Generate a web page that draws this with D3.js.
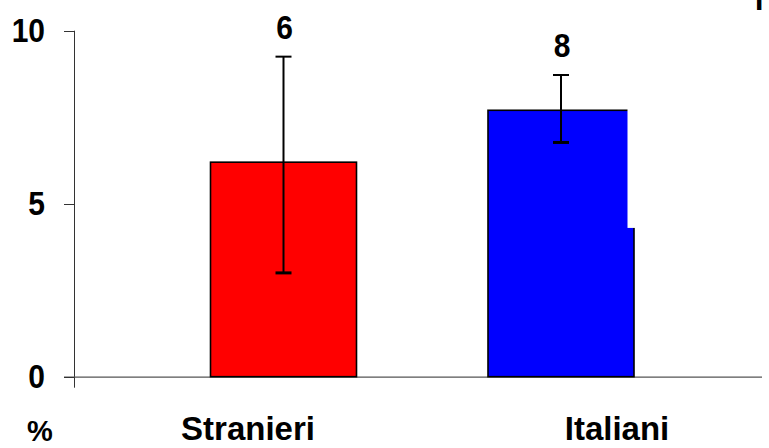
<!DOCTYPE html>
<html><head><meta charset="utf-8">
<script src="https://cdn.jsdelivr.net/npm/d3@7"></script>
<style>html,body{margin:0;padding:0;background:#fff;}svg{display:block;}</style>
</head><body>
<script>
const categories = ["Stranieri", "Italiani"];
const values = [6.2, 7.7];
const errLow = [3.0, 6.77];
const errHigh = [9.25, 8.72];
const valueLabels = ["6", "8"];
const barColors = ["#ff0000", "#0000ff"];
const yTicks = [0, 5, 10];
const yUnit = "%";
const cutLevel = [null, 4.3]; // blue bar's right edge is clipped above this level in the reference

const W = 769, H = 448;
const svg = d3.select("body").append("svg").attr("width", W).attr("height", H);
const font = "'Liberation Sans', Arial, sans-serif";

const y = d3.scaleLinear().domain([0, 10]).range([376.7, 30.7]);
const x = d3.scalePoint().domain(categories).range([283.5, 561]);
const xLab = d3.scalePoint().domain(categories).range([248, 617]);
const barW = 146;

// axes
const axisG = svg.append("g");
axisG.append("line").attr("x1", 74.5).attr("x2", 74.5).attr("y1", y(10)).attr("y2", y(0) + 11)
  .attr("stroke", "#333").attr("stroke-width", 1);
axisG.append("line").attr("x1", 64).attr("x2", 762).attr("y1", y(0) + 0.5).attr("y2", y(0) + 0.5)
  .attr("stroke", "#555").attr("stroke-width", 1.3);
axisG.selectAll("line.tick").data(yTicks).enter().append("line")
  .attr("x1", 64).attr("x2", 74.5).attr("y1", d => Math.round(y(d)) + 0.5).attr("y2", d => Math.round(y(d)) + 0.5)
  .attr("stroke", "#333").attr("stroke-width", 1);
axisG.selectAll("text.tick").data(yTicks).enter().append("text")
  .attr("transform", d => `translate(45,${y(d) + 11}) scale(1,1.1)`)
  .attr("text-anchor", "end").attr("font-family", font).attr("font-weight", "bold").attr("font-size", 30)
  .text(d => d);

// bars
const data = categories.map((c, i) => ({ c, v: values[i], lo: errLow[i], hi: errHigh[i], lab: valueLabels[i], col: barColors[i], cut: cutLevel[i] }));
const g = svg.append("g");
g.selectAll("rect.bar").data(data).enter().append("rect")
  .attr("x", d => x(d.c) - barW / 2).attr("y", d => y(d.v))
  .attr("width", barW).attr("height", d => y(0) - y(d.v))
  .attr("fill", d => d.col).attr("stroke", "#000").attr("stroke-width", 1.6);
// clipped top-right strip on the blue bar
g.selectAll("rect.cut").data(data.filter(d => d.cut != null)).enter().append("rect")
  .attr("x", d => x(d.c) + barW / 2 - 6.5).attr("y", d => y(d.v) - 3)
  .attr("width", 12).attr("height", d => y(d.cut) - y(d.v) + 3)
  .attr("fill", "#fff");

// error bars
const eb = g.selectAll("g.err").data(data).enter().append("g");
eb.append("line").attr("x1", d => x(d.c)).attr("x2", d => x(d.c)).attr("y1", d => y(d.hi)).attr("y2", d => y(d.lo))
  .attr("stroke", "#000").attr("stroke-width", 2);
eb.append("line").attr("x1", d => x(d.c) - 8).attr("x2", d => x(d.c) + 8).attr("y1", d => y(d.hi)).attr("y2", d => y(d.hi))
  .attr("stroke", "#000").attr("stroke-width", 2);
eb.append("line").attr("x1", d => x(d.c) - 8).attr("x2", d => x(d.c) + 8).attr("y1", d => y(d.lo)).attr("y2", d => y(d.lo))
  .attr("stroke", "#000").attr("stroke-width", 3);

// value labels
g.selectAll("text.val").data(data).enter().append("text")
  .attr("transform", d => `translate(${x(d.c) + 1},${y(d.hi) - 18}) scale(1,1.1)`)
  .attr("text-anchor", "middle").attr("font-family", font).attr("font-weight", "bold").attr("font-size", 30)
  .text(d => d.lab);

// category labels
svg.selectAll("text.cat").data(categories).enter().append("text")
  .attr("x", d => xLab(d)).attr("y", 440)
  .attr("text-anchor", "middle").attr("font-family", font).attr("font-weight", "bold").attr("font-size", 33)
  .text(d => d);

// unit label
svg.append("text").attr("x", 40).attr("y", 441)
  .attr("text-anchor", "middle").attr("font-family", font).attr("font-weight", "bold").attr("font-size", 29)
  .text(yUnit);

// cut-off glyph at top right
svg.append("text").attr("x", 755).attr("y", 10)
  .attr("font-family", font).attr("font-weight", "bold").attr("font-size", 30).text("I");
</script>
</body></html>
